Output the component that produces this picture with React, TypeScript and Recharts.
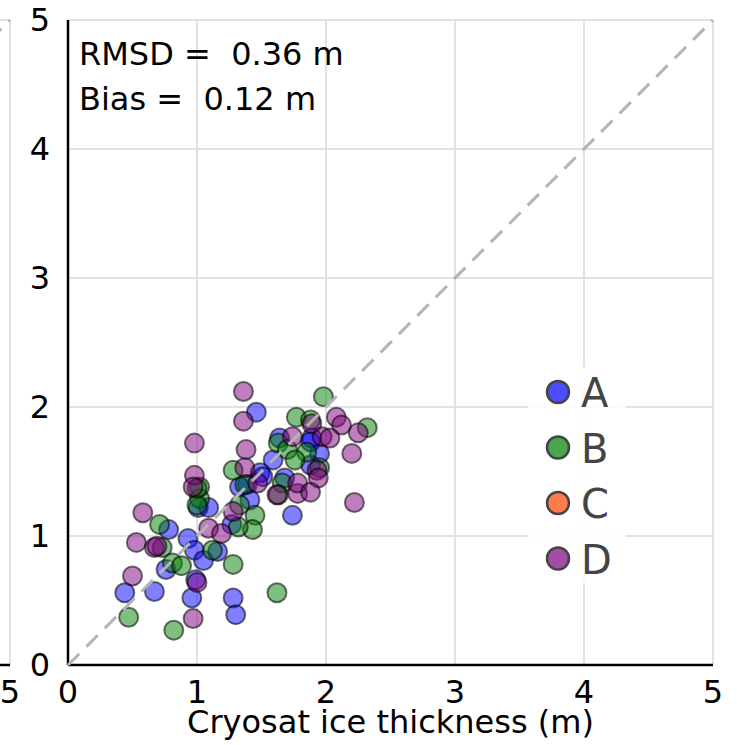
import React from 'react';
import {
  ScatterChart, Scatter, XAxis, YAxis, CartesianGrid, ReferenceLine, Customized,
} from 'recharts';

// ---- data (x = Cryosat ice thickness, y = other thickness), in metres ----
const seriesNames = ['A', 'B', 'C', 'D'];
const seriesColors = ['#0000ff', '#008000', '#ff4500', '#800080'];

const pointsA: [number, number][] = [
  [1.46, 1.96], [0.78, 1.05], [0.93, 0.98], [0.98, 0.89], [1.05, 0.81], [1.16, 0.88],
  [0.76, 0.74], [0.44, 0.56], [0.67, 0.57], [0.96, 0.52], [1.28, 0.52], [1.30, 0.39],
  [1.01, 1.22], [1.09, 1.22], [1.74, 1.16], [1.41, 1.28], [1.27, 1.09], [1.64, 1.76],
  [1.89, 1.76], [1.95, 1.64], [1.59, 1.59], [1.88, 1.55], [1.49, 1.49], [1.39, 1.40],
  [1.68, 1.45], [1.33, 1.38], [1.51, 1.46], [0.99, 0.66], [1.88, 1.73],
];
const pointsB: [number, number][] = [
  [1.98, 2.08], [1.77, 1.92], [1.88, 1.90], [2.32, 1.84], [1.63, 1.72], [1.70, 1.67],
  [1.85, 1.65], [1.76, 1.59], [1.95, 1.53], [1.66, 1.41], [1.63, 1.32], [1.37, 1.40],
  [1.28, 1.51], [1.02, 1.29], [0.71, 1.09], [0.73, 0.91], [0.81, 0.79], [0.88, 0.77],
  [0.47, 0.37], [0.82, 0.27], [1.28, 0.78], [1.62, 0.56], [1.12, 0.89], [1.00, 1.24],
  [1.02, 1.38], [1.33, 1.24], [1.45, 1.16], [1.43, 1.05], [1.32, 1.07], [1.00, 1.37],
];
const pointsC: [number, number][] = [];
const pointsD: [number, number][] = [
  [1.36, 2.12], [1.36, 1.89], [0.98, 1.72], [0.98, 1.47], [0.97, 1.38], [1.38, 1.67],
  [1.37, 1.53], [0.58, 1.18], [0.53, 0.95], [0.67, 0.91], [0.50, 0.69], [1.00, 0.64],
  [0.97, 0.36], [1.09, 1.06], [1.19, 1.02], [1.28, 1.19], [1.62, 1.32], [1.78, 1.33],
  [1.74, 1.77], [1.89, 1.87], [2.08, 1.92], [2.12, 1.86], [2.25, 1.80], [2.20, 1.64],
  [1.97, 1.77], [2.03, 1.76], [1.93, 1.51], [1.94, 1.45], [1.78, 1.41], [1.88, 1.34],
  [1.47, 1.41], [2.22, 1.26], [0.69, 0.92],
];
const seriesPoints = [pointsA, pointsB, pointsC, pointsD];

const axisTicks = [0, 1, 2, 3, 4, 5];
const neighbourXTicks = [5];
const xLabel = 'Cryosat ice thickness (m)';
const statLines = ['RMSD =  0.36 m', 'Bias =  0.12 m'];

// ---- styling / layout ----
const W = 737;
const H = 745;
const FONT = '"DejaVu Sans", Verdana, sans-serif';

const toRows = (pts: [number, number][]) => pts.map(([x, y]) => ({ x, y }));

const makeDot = (color: string) => (p: any) => (
  <circle
    cx={p.cx}
    cy={p.cy}
    r={9.5}
    fill={color}
    fillOpacity={0.5}
    stroke="#000"
    strokeOpacity={0.55}
    strokeWidth={2}
  />
);

const Annotations = () => (
  <g style={{ fontFamily: FONT }}>
    {statLines.map((s, i) => (
      <text key={s} x={79} y={65 + i * 45} fontSize={32} fill="#000" style={{ whiteSpace: 'pre' }}>
        {s}
      </text>
    ))}
  </g>
);

const LegendBox = () => (
  <g style={{ fontFamily: FONT }}>
    <rect x={528} y={367} width={98} height={216} fill="#fff" fillOpacity={0.85} />
    {seriesNames.map((n, i) => {
      const cy = 392 + i * 55.5;
      return (
        <g key={n}>
          <circle cx={558} cy={cy} r={11} fill={seriesColors[i]} fillOpacity={0.7} stroke="#444" strokeWidth={2.5} />
          <text x={581} y={cy + 15} fontSize={40} fill="#444">{n}</text>
        </g>
      );
    })}
  </g>
);

const Plot = ({ main }: { main: boolean }) => (
  <ScatterChart width={W} height={H} margin={{ top: 20, right: 24, bottom: 0, left: 0 }} style={{ fontFamily: FONT }}>
    <CartesianGrid stroke="#e2e2e2" strokeWidth={2} />
    <XAxis
      type="number"
      dataKey="x"
      domain={[0, 5]}
      ticks={main ? axisTicks : neighbourXTicks}
      allowDataOverflow
      height={80}
      tickLine={false}
      tickSize={6}
      tickMargin={9}
      axisLine={{ stroke: '#000', strokeWidth: 2.5 }}
      tick={{ fontSize: 32, fill: '#000', fontFamily: FONT }}
      label={main ? { value: xLabel, position: 'insideBottom', offset: 12, fontSize: 32, fill: '#000', fontFamily: FONT } : undefined}
    />
    <YAxis
      type="number"
      dataKey="y"
      domain={[0, 5]}
      ticks={axisTicks}
      allowDataOverflow
      width={68}
      tickLine={false}
      tickSize={6}
      tickMargin={12}
      axisLine={{ stroke: '#000', strokeWidth: 2.5 }}
      tick={main ? { fontSize: 32, fill: '#000', fontFamily: FONT } : false}
    />
    {main &&
      seriesPoints.map((pts, i) => (
        <Scatter
          key={seriesNames[i]}
          name={seriesNames[i]}
          data={toRows(pts)}
          shape={makeDot(seriesColors[i])}
          isAnimationActive={false}
        />
      ))}
    <ReferenceLine
      segment={[{ x: 0, y: 0 }, { x: 5, y: 5 }]}
      stroke="#b4b4b4"
      strokeWidth={3}
      strokeDasharray="16 10"
      ifOverflow="visible"
      zIndex={1000}
    />
    {main && <Customized component={Annotations} />}
    {main && <Customized component={LegendBox} />}
  </ScatterChart>
);

export default function App() {
  return (
    <div style={{ position: 'absolute', left: 0, top: 0, width: W, height: H, overflow: 'hidden', background: '#fff' }}>
      <div style={{ position: 'absolute', left: -703, top: 0 }}>
        <Plot main={false} />
      </div>
      <div style={{ position: 'absolute', left: 0, top: 0 }}>
        <Plot main={true} />
      </div>
    </div>
  );
}
